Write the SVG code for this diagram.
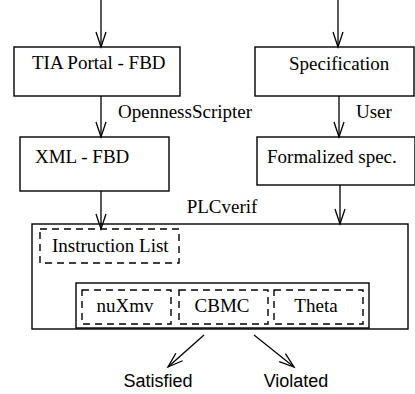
<svg xmlns="http://www.w3.org/2000/svg" width="415" height="394" viewBox="0 0 415 394">
<defs>
<marker id="v" viewBox="-16 -7 18 14" markerWidth="18" markerHeight="14" refX="0" refY="0" orient="auto" markerUnits="userSpaceOnUse" overflow="visible">
<path d="M-15,-5 L0,0 L-15,5" fill="none" stroke="#000" stroke-width="1.3"/>
</marker>
</defs>
<style>
text{font-family:"Liberation Serif","Times New Roman",serif;font-size:19px;fill:#000}
text.s{font-family:"Liberation Sans",Arial,sans-serif;font-size:18px}
.b{fill:#fff;stroke:#000;stroke-width:1.4}
.d{fill:none;stroke:#000;stroke-width:1.4;stroke-dasharray:7,5}
.c line{stroke:#000;stroke-width:1.3;marker-end:url(#v)}
.m{text-anchor:middle}
</style>
<rect width="415" height="394" fill="#fff"/>
<g id="tia"><rect class="b" x="14" y="47" width="166" height="49"/><text x="32" y="69">TIA Portal - FBD</text></g>
<g id="xml"><rect class="b" x="20" y="137" width="149" height="54"/><text x="35" y="163">XML - FBD</text></g>
<g id="spec"><rect class="b" x="255" y="47" width="159" height="49"/><text x="289" y="70">Specification</text></g>
<g id="formal"><rect class="b" x="257" y="137" width="158" height="48"/><text x="267" y="163">Formalized spec.</text></g>
<g id="plcverif"><rect class="b" x="32" y="224" width="376" height="105"/><text class="m" x="222" y="213">PLCverif</text></g>
<g id="il"><rect class="d" x="40" y="229" width="139" height="34"/><text x="52" y="252">Instruction List</text></g>
<g id="backends"><rect class="b" x="76" y="283" width="293" height="45"/></g>
<g id="nuxmv"><rect class="d" x="82" y="290" width="89" height="34"/><text class="m" x="125" y="312">nuXmv</text></g>
<g id="cbmc"><rect class="d" x="179" y="290" width="89" height="34"/><text class="m" x="222" y="312">CBMC</text></g>
<g id="theta"><rect class="d" x="274" y="290" width="89" height="34"/><text class="m" x="316" y="312">Theta</text></g>
<g id="satisfied"><text class="s m" x="158" y="387">Satisfied</text></g>
<g id="violated"><text class="s m" x="296" y="387">Violated</text></g>
<g id="connectors" class="c">
<line x1="101" y1="0" x2="101" y2="47"/>
<line x1="101" y1="96" x2="101" y2="137"/>
<line x1="101" y1="191" x2="101" y2="229"/>
<line x1="338" y1="0" x2="338" y2="47"/>
<line x1="339" y1="96" x2="339" y2="137"/>
<line x1="340" y1="185" x2="340" y2="224"/>
<line x1="204" y1="335" x2="168" y2="367"/>
<line x1="254" y1="335" x2="294" y2="367"/>
</g>
<text x="118" y="118">OpennessScripter</text>
<text x="356" y="118">User</text>
</svg>
